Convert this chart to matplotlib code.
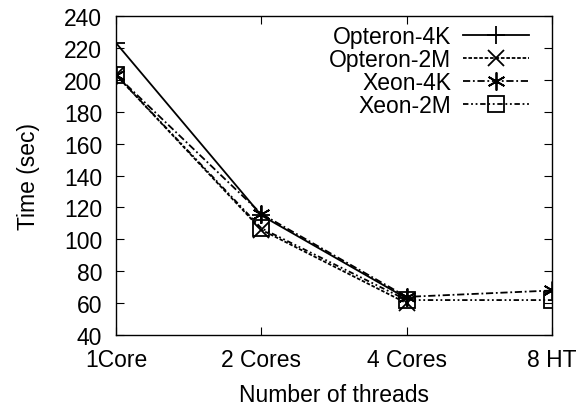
import matplotlib
matplotlib.use("Agg")
import matplotlib.pyplot as plt

plt.rcParams['font.family'] = ['Liberation Sans', 'DejaVu Sans']
plt.rcParams['font.size'] = 16.5

# data
threads = ['1Core', '2 Cores', '4 Cores', '8 HT']
opteron_4k = [223, 115, 63]
opteron_2m = [203, 106, 60]
xeon_4k = [203, 116, 64, 68]
xeon_2m = [203, 107, 62, 62]

fig = plt.figure(figsize=(5.83, 4.10), dpi=100)
ax = fig.add_axes([0.199, 0.180, 0.748, 0.779])

x3 = list(range(3))
x4 = list(range(4))
ax.plot(x3, opteron_4k, color='black', lw=1.3, ls='-', marker='+',
        ms=13, mew=1.3, label='Opteron-4K')
ax.plot(x3, opteron_2m, color='black', lw=1.3, ls=(0, (2, 1)), marker='x',
        ms=11, mew=1.3, label='Opteron-2M')
ax.plot(x4, xeon_4k, color='black', lw=1.3, ls=(0, (4, 1.5, 1, 1.5)), marker=(6, 2, 0),
        ms=13, mew=1.3, label='Xeon-4K')
ax.plot(x4, xeon_2m, color='black', lw=1.3, ls=(0, (3, 1.5, 1, 1.5, 1, 1.5)), marker='s',
        ms=11, mew=1.3, mfc='none', label='Xeon-2M')

ax.set_xlim(0, 3)
ax.set_ylim(40, 240)
ax.set_xticks(x4)
ax.set_xticklabels(threads)
ax.set_yticks(range(40, 241, 20))
ax.tick_params(direction='in', length=6, top=True, right=True)
ax.tick_params(axis='y', pad=10)
ax.tick_params(axis='x', pad=9)
for s in ax.spines.values():
    s.set_linewidth(1.0)

ax.set_xlabel('Number of threads', labelpad=9)
ax.set_ylabel('Time (sec)', labelpad=17)

ax.legend(loc='upper right', markerfirst=False, frameon=False,
          handlelength=2.9, labelspacing=0.0, borderaxespad=0.0,
          handletextpad=0.5, bbox_to_anchor=(0.968, 1.0))

fig.savefig('out.png', dpi=100)
